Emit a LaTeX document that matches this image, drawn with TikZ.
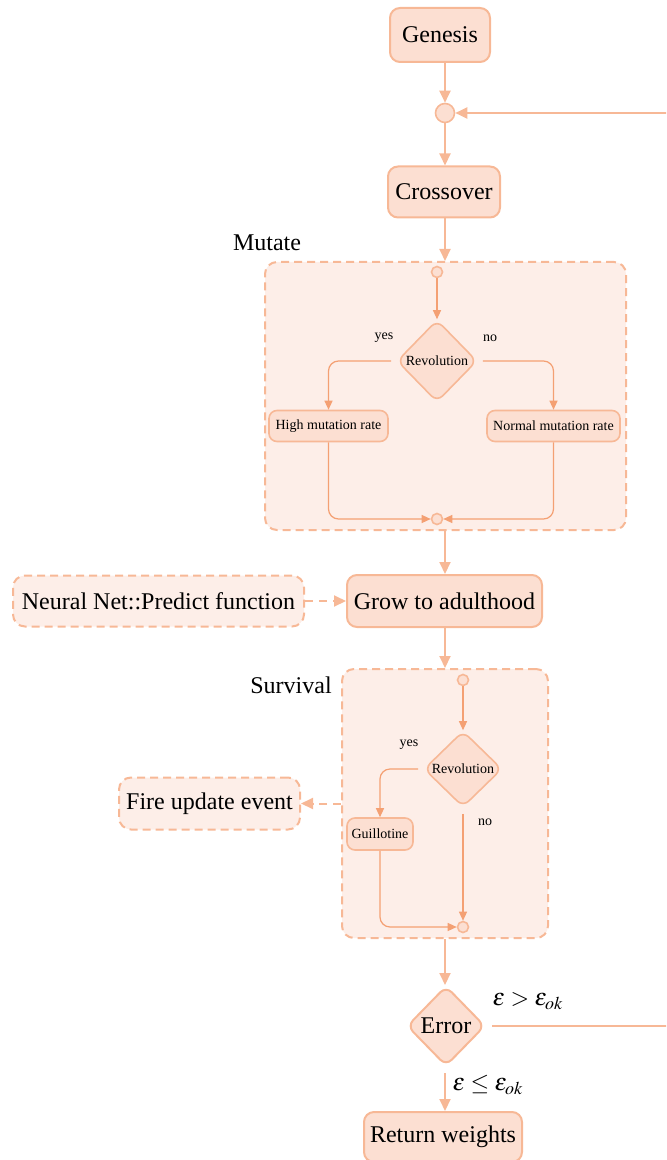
\documentclass[tikz,border=0pt]{standalone}
\usepackage{mathptmx}
\usepackage[no-math]{fontspec}
\setmainfont{Liberation Serif}
\usetikzlibrary{shapes.geometric,arrows.meta}

\definecolor{edgec}{RGB}{247,184,150}
\definecolor{innerc}{RGB}{244,160,115}
\definecolor{boxfill}{RGB}{252,223,210}
\definecolor{groupfill}{RGB}{253,238,232}

\tikzset{
  stepbox/.style={draw=edgec, line width=1pt, fill=boxfill, rounded corners=5pt,
    font=\fontsize{12}{14}\selectfont, inner xsep=1pt, inner ysep=0pt, align=center},
  smallbox/.style={draw=edgec, line width=0.8pt, fill=boxfill, rounded corners=4pt,
    font=\fontsize{7}{8}\selectfont, inner xsep=1pt, inner ysep=0pt},
  extbox/.style={draw=edgec, line width=1pt, dash pattern=on 4pt off 2.5pt,
    fill=groupfill, rounded corners=6pt, font=\fontsize{12}{14}\selectfont,
    inner xsep=1pt, inner ysep=0pt},
  group/.style={draw=edgec, line width=1pt, dash pattern=on 4pt off 2.5pt,
    fill=groupfill, rounded corners=6pt, inner sep=0pt},
  decision/.style={diamond, draw=edgec, line width=0.8pt, fill=boxfill,
    rounded corners=4pt, inner sep=0pt, font=\fontsize{7}{8}\selectfont},
  bigdecision/.style={decision, line width=1pt, font=\fontsize{12}{14}\selectfont},
  junction/.style={circle, draw=edgec, line width=0.8pt, fill=boxfill, inner sep=0pt},
  flow/.style={draw=edgec, line width=1pt, -{Triangle[length=6pt,width=5.5pt]}},
  subflow/.style={draw=innerc, line width=0.6pt, -{Triangle[length=4.5pt,width=4pt]}},
  call/.style={flow, dash pattern=on 4pt off 3pt},
  tag/.style={font=\fontsize{7}{8}\selectfont},
  heading/.style={font=\fontsize{12}{14}\selectfont},
}

\begin{document}
\begin{tikzpicture}[x=0.5pt, y=-0.5pt]
\useasboundingbox (0,0) rectangle (666,1160);
\clip (0,0) rectangle (666,1160);

% main column
\node[stepbox, minimum width=50pt, minimum height=27pt] (genesis) at (440,35) {Genesis};
\node[junction, minimum size=9.5pt] (loopin) at (445,113) {};
\node[stepbox, minimum width=56pt, minimum height=25.5pt] (cross) at (444,192) {Crossover};

% mutate group
\node[group, minimum width=180.5pt, minimum height=134pt] (mut) at (445.5,396) {};
\node[heading] (mutlabel) at (267,243) {Mutate};
\node[junction, minimum size=5.5pt] (mstart) at (437,272) {};
\node[decision, minimum width=40pt, minimum height=41pt] (rev1) at (437,361) {Revolution};
\node[tag] (yes1) at (384,338) {yes};
\node[tag] (no1) at (490,338) {no};
\node[smallbox, minimum width=59.5pt, minimum height=15.5pt] (high) at (328.5,426) {High mutation rate};
\node[smallbox, minimum width=66.5pt, minimum height=15.5pt] (norm) at (553.5,426) {Normal mutation rate};
\node[junction, minimum size=5.5pt] (mend) at (437,519) {};

% growth
\node[stepbox, minimum width=97.5pt, minimum height=26pt] (grow) at (444.5,601) {Grow to adulthood};
\node[extbox, minimum width=145.5pt, minimum height=25.5pt] (predict) at (158.5,601) {Neural Net::Predict function};

% survival group
\node[group, minimum width=103pt, minimum height=134.5pt] (surv) at (445,803.5) {};
\node[heading] (survlabel) at (291,685) {Survival};
\node[junction, minimum size=5.5pt] (sstart) at (463,680) {};
\node[decision, minimum width=39pt, minimum height=38pt] (rev2) at (463,769) {Revolution};
\node[tag] (yes2) at (409,745) {yes};
\node[tag] (no2) at (485,822) {no};
\node[smallbox, minimum width=33pt, minimum height=16pt] (guill) at (380,834) {Guillotine};
\node[junction, minimum size=5.5pt] (send) at (463,927) {};
\node[extbox, minimum width=90.5pt, minimum height=26pt] (fire) at (209.5,803.5) {Fire update event};

% error test and result
\node[bigdecision, minimum width=39pt, minimum height=40pt] (err) at (446,1026) {Error};
\node[stepbox, minimum width=79pt, minimum height=25pt] (ret) at (443,1137) {Return weights};
\node[heading] (gt) at (528,1001) {$\varepsilon > \varepsilon_{ok}$};
\node[heading] (le) at (488,1085) {$\varepsilon \leq \varepsilon_{ok}$};
\coordinate (loopturn) at (700,1026);

% main flow
\draw[flow] (genesis.south -| loopin) -- (loopin.north);
\draw[flow] (loopin.south) -- (loopin |- cross.north);
\draw[flow] (loopin |- cross.south) -- (loopin |- mut.north);
\draw[flow] (loopin |- mut.south) -- (loopin |- grow.north);
\draw[call] (predict.east) -- (grow.west);
\draw[flow] (loopin |- grow.south) -- (loopin |- surv.north);
\draw[call] (surv.west) -- (fire.east);
\draw[flow] (loopin |- surv.south) -- (loopin |- err.north);
\draw[flow, shorten <=3pt] (loopin |- err.south) -- (loopin |- ret.north);
\draw[flow, shorten <=3pt] (err.east) -- (loopturn) |- (loopin.east);

% mutate internals
\draw[subflow] (mstart.south) -- (rev1.north);
\draw[subflow, rounded corners=5pt, shorten <=2.5pt] (rev1.west) -| (high.north);
\draw[subflow, rounded corners=5pt, shorten <=2.5pt] (rev1.east) -| (norm.north);
\draw[subflow, rounded corners=5pt] (high.south) |- (mend.west);
\draw[subflow, rounded corners=5pt] (norm.south) |- (mend.east);

% survival internals
\draw[subflow] (sstart.south) -- (rev2.north);
\draw[subflow, rounded corners=5pt, shorten <=2.5pt] (rev2.west) -| (guill.north);
\draw[subflow, shorten <=3pt] (rev2.south) -- (send.north);
\draw[subflow, rounded corners=5pt] (guill.south) |- (send.west);
\end{tikzpicture}
\end{document}
